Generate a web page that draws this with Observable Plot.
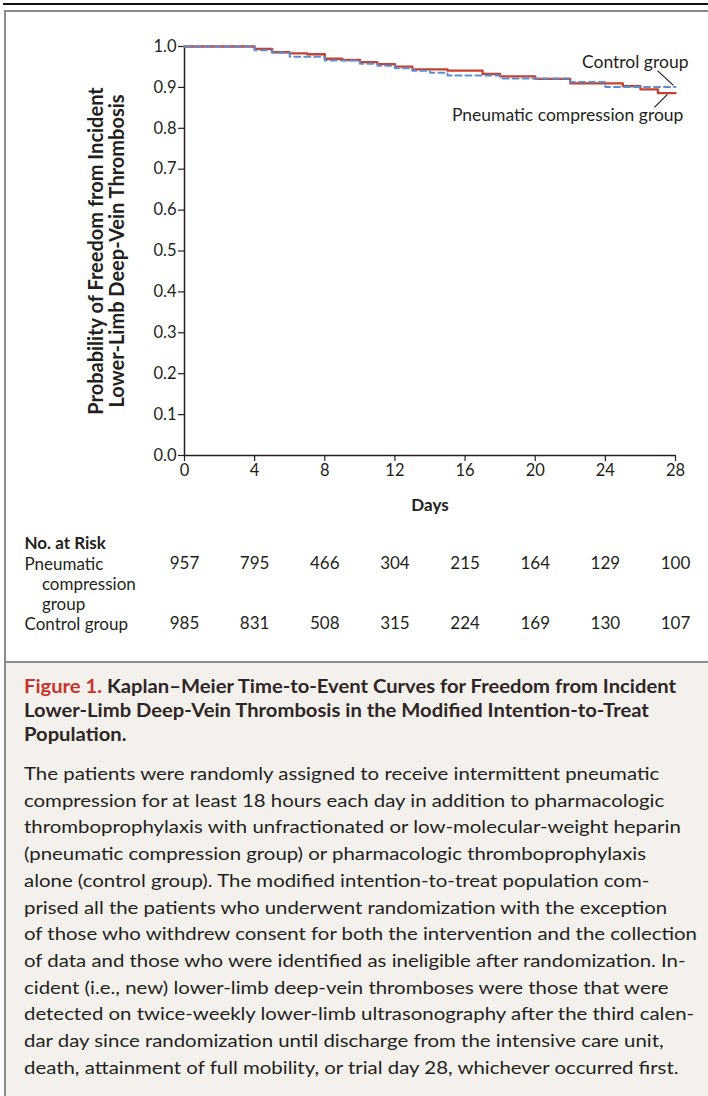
<!DOCTYPE html>
<html><head><meta charset="utf-8">
<script src="https://cdn.jsdelivr.net/npm/d3@7"></script>
<script src="https://cdn.jsdelivr.net/npm/@observablehq/plot@0.6"></script>
<style>
html,body{margin:0;padding:0;width:708px;height:1096px;overflow:hidden;background:#fff;font-family:Lato,sans-serif;color:#231f20}
#topline{position:absolute;left:3px;top:3px;width:705px;height:2px;background:#111}
#frame{position:absolute;left:4px;top:10px;width:720px;height:1100px;border-top:2px solid #8b8b8b;border-left:2px solid #8b8b8b}
#capbg{position:absolute;left:6px;top:661px;width:710px;height:440px;background:#f4f1ec;border-top:2px solid #8b8b8b}
#chart{position:absolute;left:0;top:0}
#risk{position:absolute;left:0;top:530px}
.blk{position:absolute;left:24px;white-space:nowrap}
.blk .ln{display:block;transform-origin:0 50%}
.blk .ln span.in{display:inline-block}
#title{top:674px;font-weight:700;font-size:18px;line-height:24px;color:#2e2626}
#title .fig{color:#c8332e}
#body{top:760px;font-size:18px;line-height:26.7px}
</style></head><body>
<div id="topline"></div>
<div id="frame"></div>
<div id="capbg"></div>
<div id="chart"></div>
<div id="risk"></div>
<div id="title" class="blk"></div>
<div id="body" class="blk"></div>
<script>
// ---- data ----
const xTicks = [0, 4, 8, 12, 16, 20, 24, 28];
const yTicks = [0, 0.1, 0.2, 0.3, 0.4, 0.5, 0.6, 0.7, 0.8, 0.9, 1.0];
const pneumaticDays = [0, 4, 5, 6, 7, 8, 9, 10, 11, 12, 13, 15, 17, 18, 20, 22, 25, 26, 27, 28];
const pneumaticSurv = [1.0, 0.994, 0.986, 0.983, 0.981, 0.970, 0.967, 0.962, 0.957, 0.951, 0.944, 0.941, 0.933, 0.927, 0.921, 0.910, 0.903, 0.895, 0.886, 0.886];
const controlDays = [0, 4, 5, 6, 8, 10, 11, 12, 13, 14, 15, 18, 22, 24, 28];
const controlSurv = [1.0, 0.991, 0.985, 0.975, 0.966, 0.958, 0.953, 0.947, 0.941, 0.936, 0.929, 0.922, 0.913, 0.901, 0.901];
const riskDays = [0, 4, 8, 12, 16, 20, 24, 28];
const riskPneumatic = [957, 795, 466, 304, 215, 164, 129, 100];
const riskControl = [985, 831, 508, 315, 224, 169, 130, 107];
const groupLabels = ["Pneumatic\n\u00a0\u00a0\u00a0\u00a0compression\n\u00a0\u00a0\u00a0\u00a0group", "Control group"];
const annotationLabels = ["Control group", "Pneumatic compression group"];
const annotationX = [28.74, 28.45];
const annotationY = [0.961, 0.831];
const pointerX1 = [26.97, 26.8], pointerY1 = [0.941, 0.851];
const pointerX2 = [27.88, 27.54], pointerY2 = [0.905, 0.883];
const yLabel = "Probability of Freedom from Incident\nLower-Limb Deep-Vein Thrombosis";
const xLabel = "Days";
const titleLines = [["Figure 1.", " Kaplan\u2013Meier Time-to-Event Curves for Freedom from Incident"], ["", "Lower-Limb Deep-Vein Thrombosis in the Modified Intention-to-Treat"], ["", "Population."]];
const bodyLines = [
"The patients were randomly assigned to receive intermittent pneumatic",
"compression for at least 18 hours each day in addition to pharmacologic",
"thromboprophylaxis with unfractionated or low-molecular-weight heparin",
"(pneumatic compression group) or pharmacologic thromboprophylaxis",
"alone (control group). The modified intention-to-treat population com-",
"prised all the patients who underwent randomization with the exception",
"of those who withdrew consent for both the intervention and the collection",
"of data and those who were identified as ineligible after randomization. In-",
"cident (i.e., new) lower-limb deep-vein thromboses were those that were",
"detected on twice-weekly lower-limb ultrasonography after the third calen-",
"dar day since randomization until discharge from the intensive care unit,",
"death, attainment of full mobility, or trial day 28, whichever occurred first."];

const ink = "#231f20";
const pneumatic = pneumaticDays.map((d, i) => ({day: d, surv: pneumaticSurv[i]}));
const control = controlDays.map((d, i) => ({day: d, surv: controlSurv[i]}));
const annots = annotationLabels.map((t, i) => ({t, x: annotationX[i], y: annotationY[i]}));
const pointers = pointerX1.map((x, i) => ({x1: x, y1: pointerY1[i], x2: pointerX2[i], y2: pointerY2[i]}));

const chart = Plot.plot({
  width: 708, height: 520,
  marginLeft: 184, marginRight: 33, marginTop: 46, marginBottom: 65,
  style: {background: "transparent", fontFamily: "Lato, sans-serif", fontSize: "16.5px", color: ink, overflow: "visible"},
  x: {domain: [0, 28]},
  y: {domain: [0, 1]},
  marks: [
    Plot.axisY({ticks: yTicks, tickFormat: d3.format(".1f"), tickSize: 6, tickPadding: 2, label: null, strokeWidth: 1.2}),
    Plot.axisX({ticks: xTicks, tickSize: 6, tickPadding: 3, label: null, strokeWidth: 1.2}),
    Plot.ruleX([0], {stroke: ink, strokeWidth: 1.5}),
    Plot.ruleY([0], {stroke: ink, strokeWidth: 1.5}),
    Plot.line(pneumatic, {x: "day", y: "surv", curve: "step-after", stroke: "#c8402f", strokeWidth: 2.3}),
    Plot.line(control, {x: "day", y: "surv", curve: "step-after", stroke: "#5b8fd4", strokeWidth: 2, strokeDasharray: "6,4"}),
    Plot.link(pointers, {x1: "x1", y1: "y1", x2: "x2", y2: "y2", stroke: ink, strokeWidth: 1.2}),
    Plot.text(annots, {x: "x", y: "y", text: "t", textAnchor: "end", fontSize: 17.5, fill: ink}),
    Plot.text([xLabel], {frameAnchor: "bottom", dy: 50, text: d => d, fontWeight: "bold", fontSize: 17, lineAnchor: "middle", fill: ink}),
    Plot.text([yLabel], {frameAnchor: "left", dx: -77.5, rotate: -90, text: d => d, textAnchor: "middle", lineAnchor: "middle", lineHeight: 1.05, fontWeight: "bold", fontSize: 20, fill: ink})
  ]
});
document.getElementById("chart").append(chart);

const riskRows = [];
riskDays.forEach((d, i) => {
  riskRows.push({day: d, row: 1, n: riskPneumatic[i]});
  riskRows.push({day: d, row: 4, n: riskControl[i]});
});
const labelRows = [{t: groupLabels[0], row: 2}, {t: groupLabels[1], row: 4}];
const risk = Plot.plot({
  width: 708, height: 110,
  marginLeft: 184, marginRight: 33, marginTop: 0, marginBottom: 0,
  style: {background: "transparent", fontFamily: "Lato, sans-serif", fontSize: "17px", color: ink, overflow: "visible"},
  x: {domain: [0, 28], axis: null},
  y: {domain: [0, 4], range: [13, 93], axis: null},
  marks: [
    Plot.text(riskRows, {x: "day", y: "row", text: "n", fill: ink, fontSize: 17}),
    Plot.text(labelRows, {frameAnchor: "left", y: "row", text: "t", dx: -160, textAnchor: "start", lineHeight: 20 / 17, fill: ink, fontSize: 17}),
    Plot.text([{t: "No. at Risk", row: 0}], {frameAnchor: "left", y: "row", text: "t", dx: -160, textAnchor: "start", fontWeight: "bold", fill: ink, fontSize: 17})
  ]
});
document.getElementById("risk").append(risk);

// caption
const title = document.getElementById("title");
titleLines.forEach(([fig, rest]) => {
  const ln = document.createElement("div"); ln.className = "ln";
  const inn = document.createElement("span"); inn.className = "in";
  if (fig) { const f = document.createElement("span"); f.className = "fig"; f.textContent = fig; inn.append(f); }
  inn.append(document.createTextNode(rest));
  ln.append(inn); title.append(ln);
});
const body = document.getElementById("body");
bodyLines.forEach(t => {
  const ln = document.createElement("div"); ln.className = "ln";
  const inn = document.createElement("span"); inn.className = "in"; inn.textContent = t;
  ln.append(inn); body.append(ln);
});
function fit(el, refIndex, target) {
  const lines = el.querySelectorAll(".ln");
  const w = lines[refIndex].querySelector(".in").getBoundingClientRect().width;
  const s = target / w;
  lines.forEach(l => l.style.transform = `scaleX(${s})`);
}
fit(title, 0, 652);
fit(body, 6, 673);
</script>
</body></html>
